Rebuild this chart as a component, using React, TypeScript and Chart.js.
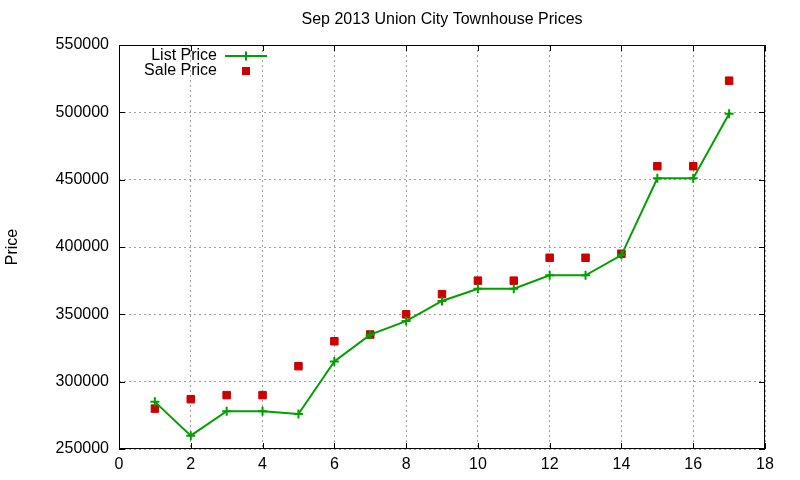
import { useEffect, useRef } from 'react';
import { Chart, registerables } from 'chart.js';

Chart.register(...registerables);

// data
const houses = [1, 2, 3, 4, 5, 6, 7, 8, 9, 10, 11, 12, 13, 14, 15, 16, 17];
const listPrice = [285000, 259900, 278000, 278000, 276000, 315000, 334900, 345000, 359900, 369000, 369000, 379000, 379000, 394000, 451000, 451000, 499000];
const salePrice = [280000, 287000, 290000, 290000, 311500, 330000, 335000, 350000, 365000, 375000, 375000, 392000, 392000, 395000, 460000, 460000, 523500];
const chartTitle = 'Sep 2013 Union City Townhouse Prices';
const yLabel = 'Price';

const FONT = '"Liberation Sans", Arial, sans-serif';
const GREEN = '#00a000';
const RED = '#cc0000';

// gnuplot look: title, y label, frame with inward ticks, legend inside plot
const gnuplotLook = {
  id: 'gnuplotLook',
  afterDraw(chart: any) {
    const { ctx, chartArea: a, scales } = chart;
    ctx.save();
    ctx.fillStyle = '#000';
    ctx.font = `16px ${FONT}`;
    ctx.textAlign = 'center';
    ctx.textBaseline = 'middle';
    ctx.fillText(chartTitle, (a.left + a.right) / 2, 20);

    ctx.save();
    ctx.translate(13, (a.top + a.bottom) / 2);
    ctx.rotate(-Math.PI / 2);
    ctx.fillText(yLabel, 0, 0);
    ctx.restore();

    // frame
    ctx.strokeStyle = '#000';
    ctx.lineWidth = 1;
    ctx.strokeRect(a.left + 0.5, a.top + 0.5, a.right - a.left - 1, a.bottom - a.top - 1);

    const tl = 6;
    ctx.beginPath();
    scales.x.ticks.forEach((t: any) => {
      const px = Math.round(scales.x.getPixelForValue(t.value)) + 0.5;
      ctx.moveTo(px, a.bottom);
      ctx.lineTo(px, a.bottom - tl);
      ctx.moveTo(px, a.top);
      ctx.lineTo(px, a.top + tl);
    });
    scales.y.ticks.forEach((t: any) => {
      const py = Math.round(scales.y.getPixelForValue(t.value)) + 0.5;
      ctx.moveTo(a.left, py);
      ctx.lineTo(a.left + tl, py);
      ctx.moveTo(a.right, py);
      ctx.lineTo(a.right - tl, py);
    });
    ctx.stroke();

    // legend
    ctx.textAlign = 'right';
    ctx.fillStyle = '#000';
    ctx.fillText(chart.data.datasets[0].label, 217, 56);
    ctx.fillText(chart.data.datasets[1].label, 217, 71);

    ctx.strokeStyle = GREEN;
    ctx.lineWidth = 2;
    ctx.beginPath();
    ctx.moveTo(225, 56);
    ctx.lineTo(267, 56);
    ctx.moveTo(246, 51.5);
    ctx.lineTo(246, 60.5);
    ctx.stroke();

    ctx.fillStyle = RED;
    ctx.fillRect(242, 67, 8, 8);
    ctx.restore();
  },
};

const PriceChart = () => {
  const canvasRef = useRef<HTMLCanvasElement>(null);
  const chartRef = useRef<Chart | null>(null);

  useEffect(() => {
    document.body.style.margin = '0';
    if (!canvasRef.current) return;
    if (chartRef.current) chartRef.current.destroy();

    chartRef.current = new Chart(canvasRef.current, {
      type: 'scatter',
      data: {
        datasets: [
          {
            label: 'List Price',
            data: houses.map((x, i) => ({ x, y: listPrice[i] })),
            showLine: true,
            borderColor: GREEN,
            backgroundColor: GREEN,
            borderWidth: 2,
            pointStyle: 'cross',
            pointRadius: 4.5,
            pointBorderWidth: 2,
          },
          {
            label: 'Sale Price',
            data: houses.map((x, i) => ({ x, y: salePrice[i] })),
            showLine: false,
            borderColor: RED,
            backgroundColor: RED,
            pointStyle: 'rect',
            pointRadius: 5.3,
            pointBorderWidth: 1,
          },
        ],
      },
      options: {
        responsive: false,
        animation: false,
        layout: { padding: { top: 45, right: 35, left: 0, bottom: 0 } },
        plugins: {
          legend: { display: false },
          title: { display: false },
          tooltip: { enabled: false },
        },
        scales: {
          x: {
            type: 'linear',
            min: 0,
            max: 18,
            afterFit: (s: any) => { s.height = 31; },
            ticks: { stepSize: 2, color: '#000', padding: 6, font: { family: FONT, size: 16 } },
            grid: { color: '#a0a0a0', drawTicks: false, lineWidth: 1 },
            border: { display: false, dash: [2, 3] },
          },
          y: {
            min: 250000,
            max: 550000,
            afterFit: (s: any) => { s.width = 119; },
            ticks: {
              stepSize: 50000,
              color: '#000',
              padding: 10,
              font: { family: FONT, size: 16 },
              callback: (v: any) => String(v),
            },
            grid: { color: '#a0a0a0', drawTicks: false, lineWidth: 1 },
            border: { display: false, dash: [2, 3] },
          },
        },
      },
      plugins: [gnuplotLook],
    });

    return () => {
      if (chartRef.current) {
        chartRef.current.destroy();
        chartRef.current = null;
      }
    };
  }, []);

  return (
    <div style={{ width: 800, height: 480, background: '#fff' }}>
      <canvas ref={canvasRef} width={800} height={480} style={{ width: 800, height: 480 }}></canvas>
    </div>
  );
};

export default function App() {
  return <PriceChart />;
}
